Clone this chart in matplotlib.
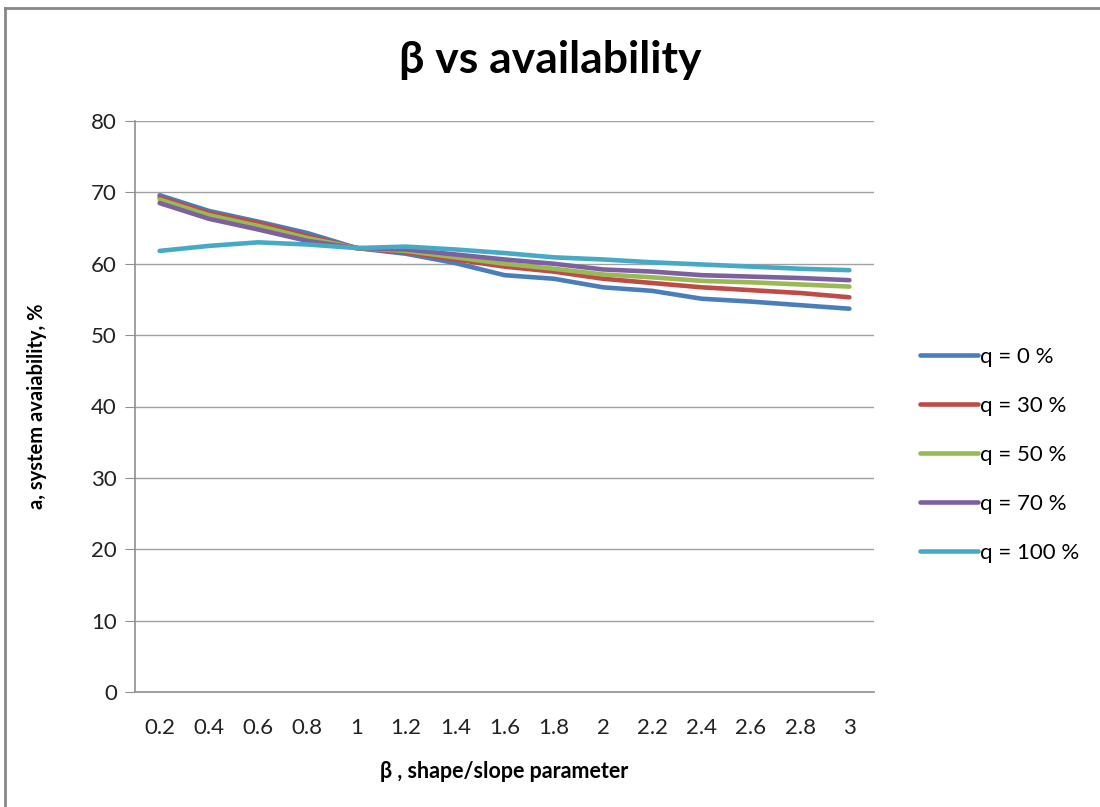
import numpy as np
import matplotlib.pyplot as plt
from matplotlib.lines import Line2D

beta = ['0.2', '0.4', '0.6', '0.8', '1', '1.2', '1.4', '1.6', '1.8', '2',
        '2.2', '2.4', '2.6', '2.8', '3']

q0 = [69.6, 67.4, 65.9, 64.3, 62.2, 61.4, 60.1, 58.4, 57.9, 56.7, 56.2, 55.1, 54.7, 54.2, 53.7]
q30 = [69.3, 67.1, 65.7, 63.9, 62.2, 61.6, 60.6, 59.6, 58.9, 57.9, 57.3, 56.7, 56.3, 55.9, 55.3]
q50 = [69.0, 66.8, 65.3, 63.6, 62.2, 61.8, 60.9, 60.0, 59.3, 58.5, 58.1, 57.6, 57.4, 57.1, 56.8]
q70 = [68.5, 66.3, 64.8, 63.2, 62.2, 62.0, 61.3, 60.6, 60.0, 59.2, 58.9, 58.4, 58.2, 58.0, 57.7]
q100 = [61.8, 62.5, 63.0, 62.7, 62.2, 62.4, 62.0, 61.5, 60.9, 60.6, 60.2, 59.9, 59.6, 59.3, 59.1]

series = [q0, q30, q50, q70, q100]
labels = ['q = 0 %', 'q = 30 %', 'q = 50 %', 'q = 70 %', 'q = 100 %']
colors = ['#4A7EBB', '#BE4B48', '#98B954', '#7D60A0', '#46AAC5']

plt.rcParams['font.family'] = ['Lato', 'DejaVu Sans']

fig = plt.figure(figsize=(11, 8.07), dpi=100)
ax = fig.add_axes([135/1100, 1 - 692/807, (874 - 135)/1100, (692 - 121)/807])

x = np.arange(len(beta))
for s, lab, c in zip(series, labels, colors):
    ax.plot(x, s, color=c, lw=3.3, label=lab, solid_capstyle='round')

ax.set_xlim(-0.5, len(beta) - 0.5)
ax.set_ylim(0, 80)
ax.set_yticks(range(0, 81, 10))
ax.set_xticks(x)
ax.set_xticklabels(beta)
ax.yaxis.grid(True, color='#a0a0a0', lw=1)
ax.set_axisbelow(True)
for sp in ['top', 'right']:
    ax.spines[sp].set_visible(False)
for sp in ['left', 'bottom']:
    ax.spines[sp].set_color('#909090')
    ax.spines[sp].set_linewidth(1.2)
ax.tick_params(axis='y', length=7, color='#909090', labelsize=16, labelcolor='#222222', pad=6)
ax.tick_params(axis='x', length=0, labelsize=16, labelcolor='#222222', pad=19)

ax.set_xlabel('β , shape/slope parameter', fontsize=15.5, fontweight='bold', labelpad=16)
ax.set_ylabel('a, system avaiability, %', fontsize=14.5, fontweight='bold', labelpad=32)

fig.text(0.5, 1 - 60/807, 'β vs availability', ha='center', va='center',
         fontsize=32, fontweight='bold')

handles = [Line2D([], [], color=c, lw=3.3, solid_capstyle='round') for c in colors]
fig.legend(handles, labels, loc='upper left', bbox_to_anchor=(900/1100, 1 - 327/807),
           frameon=False, fontsize=16, handlelength=2.6, handletextpad=0.1,
           labelspacing=1.3)

# outer chart frame
fig.add_artist(Line2D([5/1100, 5/1100], [0, 1 - 8/807], color='#888888', lw=2,
                      transform=fig.transFigure))
fig.add_artist(Line2D([5/1100, 1], [1 - 8/807, 1 - 8/807], color='#888888', lw=2,
                      transform=fig.transFigure))

plt.savefig('out.png', dpi=100)
